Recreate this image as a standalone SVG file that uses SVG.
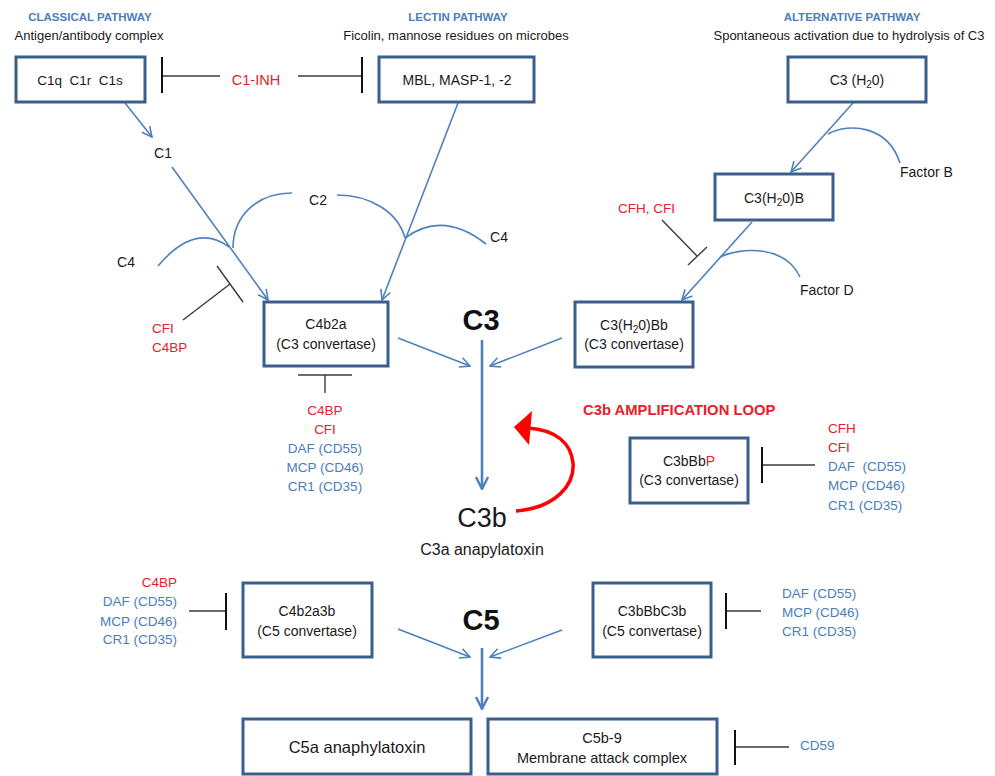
<svg xmlns="http://www.w3.org/2000/svg" width="995" height="776" viewBox="0 0 995 776">
<defs>
<style>
text{font-family:"Liberation Sans",Arial,sans-serif;font-size:14px;fill:#1a1a1a}
.hdr{font-weight:bold;font-size:11.5px;fill:#4A7EBB}
.sub{font-size:13px}
.blue{fill:#4A7EBB}
.red{fill:#E8202A}
.c{text-anchor:middle}
.e{text-anchor:end}
.box{fill:#fff;stroke:#3A5F8C;stroke-width:3}
.ln{fill:none;stroke:#4F81BD;stroke-width:1.6}
.lnb{fill:none;stroke:#4F81BD;stroke-width:2.6}
.inh{fill:none;stroke:#3a3a3a;stroke-width:1.4}
.bar{fill:none;stroke:#111;stroke-width:2}
.big{font-weight:bold;font-size:29px;fill:#111}
.inl{font-size:13.5px}
</style>
<marker id="ah" viewBox="0 0 12 12" refX="11" refY="6" markerWidth="12" markerHeight="12" markerUnits="userSpaceOnUse" orient="auto"><path d="M1,1 L11,6 L1,11" fill="none" stroke="#4F81BD" stroke-width="1.6"/></marker>
<marker id="ahb" viewBox="0 0 14 14" refX="13" refY="7" markerWidth="14" markerHeight="14" markerUnits="userSpaceOnUse" orient="auto"><path d="M1,1 L13,7 L1,13" fill="none" stroke="#4F81BD" stroke-width="2.4"/></marker>
</defs>
<rect width="995" height="776" fill="#fff"/>

<!-- headers -->
<g id="headers">
<text class="hdr c" x="90" y="21">CLASSICAL PATHWAY</text>
<text class="sub c" x="89" y="40">Antigen/antibody complex</text>
<text class="hdr c" x="458" y="21">LECTIN PATHWAY</text>
<text class="sub c" x="456" y="40">Ficolin, mannose residues on microbes</text>
<text class="hdr c" x="852" y="21">ALTERNATIVE PATHWAY</text>
<text class="sub c" x="849" y="40">Spontaneous activation due to hydrolysis of C3</text>
</g>

<!-- connectors -->
<g id="connectors">
<line class="ln" x1="125" y1="103" x2="152" y2="137" marker-end="url(#ah)"/>
<line class="ln" x1="172" y1="167" x2="268" y2="300" marker-end="url(#ah)"/>
<line class="ln" x1="458" y1="103" x2="382" y2="300" marker-end="url(#ah)"/>
<path class="ln" d="M233,248 C233,215 258,193 292,193"/>
<path class="ln" d="M337,195 C370,195 398,212 405,238"/>
<path class="ln" d="M158,266 Q195,222 229,247"/>
<path class="ln" d="M405,238 Q443,210 486,244"/>
<line class="ln" x1="853" y1="103" x2="791" y2="172" marker-end="url(#ah)"/>
<path class="ln" d="M828,134 C850,122 888,126 900,163"/>
<line class="ln" x1="752" y1="222" x2="682" y2="300" marker-end="url(#ah)"/>
<path class="ln" d="M720,257 C742,247 785,245 800,277"/>
<line class="ln" x1="398" y1="338" x2="470" y2="366" marker-end="url(#ah)"/>
<line class="ln" x1="562" y1="338" x2="490" y2="366" marker-end="url(#ah)"/>
<line class="lnb" x1="482" y1="340" x2="482" y2="489" marker-end="url(#ahb)"/>
<line class="ln" x1="398" y1="629" x2="470" y2="657" marker-end="url(#ah)"/>
<line class="ln" x1="562" y1="630" x2="490" y2="657" marker-end="url(#ah)"/>
<line class="lnb" x1="482" y1="648" x2="482" y2="709" marker-end="url(#ahb)"/>
<!-- amplification loop -->
<path d="M516,511 C555,508 575,485 573,463 C571,443 556,430 528,428" fill="none" stroke="#FF0000" stroke-width="3.5"/>
<polygon points="514,427 532,411 529,445" fill="#FF0000"/>
<!-- inhibitors -->
<line class="inh" x1="162" y1="76" x2="220" y2="76"/>
<line class="bar" x1="162" y1="57" x2="162" y2="93"/>
<line class="inh" x1="298" y1="76" x2="362" y2="76"/>
<line class="bar" x1="362" y1="57" x2="362" y2="93"/>
<line class="inh" x1="183" y1="320" x2="230" y2="284"/>
<line class="inh" x1="217" y1="266" x2="243" y2="302"/>
<line class="inh" x1="662" y1="220" x2="697" y2="256"/>
<line class="inh" x1="688" y1="265" x2="707" y2="247"/>
<line class="inh" x1="298" y1="375" x2="352" y2="375"/>
<line class="inh" x1="325" y1="375" x2="325" y2="393"/>
<line class="inh" x1="762" y1="465" x2="815" y2="465"/>
<line class="bar" x1="762" y1="447" x2="762" y2="483"/>
<line class="inh" x1="189" y1="611" x2="226" y2="611"/>
<line class="bar" x1="226" y1="593" x2="226" y2="630"/>
<line class="inh" x1="726" y1="611" x2="761" y2="611"/>
<line class="bar" x1="726" y1="593" x2="726" y2="629"/>
<line class="inh" x1="735" y1="747" x2="789" y2="747"/>
<line class="bar" x1="735" y1="730" x2="735" y2="765"/>
</g>

<!-- nodes -->
<g id="n-c1">
<rect class="box" x="16" y="57" width="129" height="45"/>
<text class="c" x="80" y="85" xml:space="preserve" style="font-size:13.5px">C1q  C1r  C1s</text>
</g>
<g id="n-mbl">
<rect class="box" x="379" y="57" width="155" height="45"/>
<text class="c" x="457" y="85">MBL, MASP-1, -2</text>
</g>
<g id="n-c3h2o">
<rect class="box" x="788" y="57" width="138" height="45"/>
<text class="c" x="857" y="85">C3 (H<tspan font-size="10" dy="3">2</tspan><tspan dy="-3">0)</tspan></text>
</g>
<g id="n-c3h2ob">
<rect class="box" x="715" y="174" width="118" height="46"/>
<text class="c" x="774" y="203">C3(H<tspan font-size="10" dy="3">2</tspan><tspan dy="-3">0)B</tspan></text>
</g>
<g id="n-c4b2a">
<rect class="box" x="264" y="302" width="124" height="64"/>
<text class="c" x="326" y="329">C4b2a</text>
<text class="c" x="326" y="349">(C3 convertase)</text>
</g>
<g id="n-c3h2obb">
<rect class="box" x="575" y="302" width="118" height="65"/>
<text class="c" x="634" y="330">C3(H<tspan font-size="10" dy="3">2</tspan><tspan dy="-3">0)Bb</tspan></text>
<text class="c" x="634" y="349">(C3 convertase)</text>
</g>
<g id="n-c3bbbp">
<rect class="box" x="630" y="438" width="118" height="65"/>
<text class="c" x="689" y="466">C3bBb<tspan class="red">P</tspan></text>
<text class="c" x="689" y="485">(C3 convertase)</text>
</g>
<g id="n-c4b2a3b">
<rect class="box" x="243" y="583" width="129" height="74"/>
<text class="c" x="307" y="616">C4b2a3b</text>
<text class="c" x="307" y="636">(C5 convertase)</text>
</g>
<g id="n-c3bbbc3b">
<rect class="box" x="593" y="583" width="118" height="74"/>
<text class="c" x="652" y="616">C3bBbC3b</text>
<text class="c" x="652" y="636">(C5 convertase)</text>
</g>
<g id="n-c5a">
<rect class="box" x="243" y="719" width="228" height="55"/>
<text class="c" x="357" y="753" style="font-size:16.5px">C5a anaphylatoxin</text>
</g>
<g id="n-c5b9">
<rect class="box" x="488" y="719" width="229" height="55"/>
<text class="c" x="602" y="743" style="font-size:14.5px">C5b-9</text>
<text class="c" x="602" y="763" style="font-size:14.5px">Membrane attack complex</text>
</g>

<!-- labels -->
<g id="labels">
<text class="red c" x="256" y="85" style="font-size:14.5px">C1-INH</text>
<text class="c" x="163" y="158">C1</text>
<text class="c" x="318" y="205">C2</text>
<text class="c" x="126" y="267">C4</text>
<text class="c" x="499" y="242">C4</text>
<text x="900" y="177">Factor B</text>
<text x="800" y="295">Factor D</text>
<text class="red inl" x="618" y="213">CFH, CFI</text>
<text class="red inl" x="152" y="333">CFI</text>
<text class="red inl" x="152" y="352">C4BP</text>
<text class="big c" x="481" y="330">C3</text>
<text class="c" x="482" y="527" style="font-size:27px">C3b</text>
<text class="c" x="482" y="555" style="font-size:16px">C3a anapylatoxin</text>
<text class="red" x="583" y="415" style="font-size:14.8px;font-weight:bold">C3b AMPLIFICATION LOOP</text>
<text class="big c" x="481" y="630">C5</text>
</g>

<g id="inhibitor-lists">
<text class="red inl c" x="325" y="415">C4BP</text>
<text class="red inl c" x="325" y="434">CFI</text>
<text class="blue inl c" x="325" y="453">DAF (CD55)</text>
<text class="blue inl c" x="325" y="472">MCP (CD46)</text>
<text class="blue inl c" x="325" y="491">CR1 (CD35)</text>

<text class="red inl" x="828" y="433">CFH</text>
<text class="red inl" x="828" y="452">CFI</text>
<text class="blue inl" x="828" y="471" xml:space="preserve">DAF  (CD55)</text>
<text class="blue inl" x="828" y="490">MCP (CD46)</text>
<text class="blue inl" x="828" y="510">CR1 (CD35)</text>

<text class="red inl e" x="177" y="587">C4BP</text>
<text class="blue inl e" x="177" y="606">DAF (CD55)</text>
<text class="blue inl e" x="177" y="626">MCP (CD46)</text>
<text class="blue inl e" x="177" y="644">CR1 (CD35)</text>

<text class="blue inl" x="782" y="598">DAF (CD55)</text>
<text class="blue inl" x="782" y="617">MCP (CD46)</text>
<text class="blue inl" x="782" y="636">CR1 (CD35)</text>

<text class="blue inl" x="800" y="750">CD59</text>
</g>
</svg>
